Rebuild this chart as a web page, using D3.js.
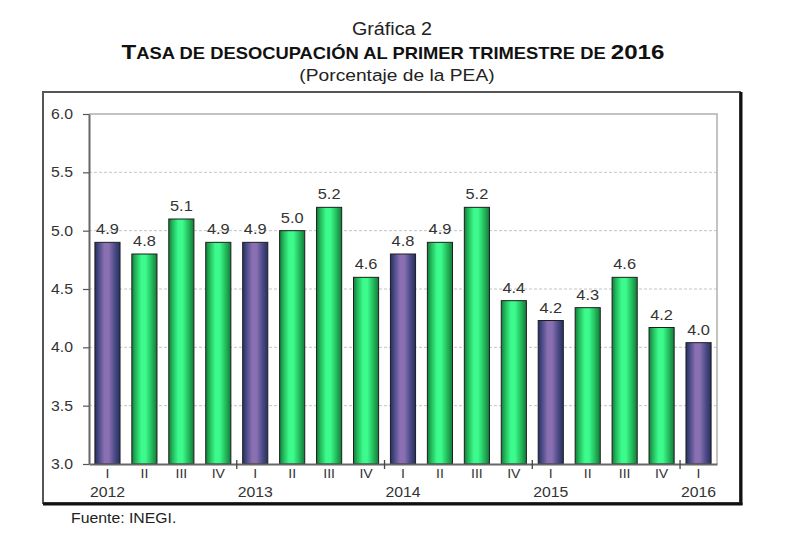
<!DOCTYPE html>
<html><head><meta charset="utf-8">
<script src="https://cdn.jsdelivr.net/npm/d3@7"></script>
<style>
body{margin:0;background:#fff}
svg{display:block}
text{font-family:Arial,"Liberation Sans",sans-serif}
</style>
</head><body>
<svg id="c" width="800" height="540"></svg>
<script>
const categories = ["2012-I","2012-II","2012-III","2012-IV","2013-I","2013-II","2013-III","2013-IV",
  "2014-I","2014-II","2014-III","2014-IV","2015-I","2015-II","2015-III","2015-IV","2016-I"];
const quarterLabels = ["I","II","III","IV","I","II","III","IV","I","II","III","IV","I","II","III","IV","I"];
const yearLabels = ["2012","","","","2013","","","","2014","","","","2015","","","","2016"];
const values = [4.9,4.8,5.1,4.9,4.9,5.0,5.2,4.6,4.8,4.9,5.2,4.4,4.23,4.34,4.6,4.17,4.04];
const yTicks = [3.0,3.5,4.0,4.5,5.0,5.5,6.0];
const chartLabel = "Gráfica 2";
const subtitle = "(Porcentaje de la PEA)";
const source = "Fuente: INEGI.";

const SX = 1.13;
const svg = d3.select("#c");
const plot = {l: 89, r: 717, t: 114, b: 464};

function stretch(sel){
  sel.each(function(){
    const t = d3.select(this);
    const x = +t.attr("x") || 0, y = +t.attr("y") || 0;
    t.attr("x", 0).attr("y", 0).attr("transform", `translate(${x},${y}) scale(${SX},1)`);
  });
}

// defs gradients
const defs = svg.append("defs");
function grad(id, stops){
  const g = defs.append("linearGradient").attr("id", id).attr("x1","0%").attr("x2","100%").attr("y1","0%").attr("y2","0%");
  stops.forEach(s => g.append("stop").attr("offset", s[0]).attr("stop-color", s[1]));
}
grad("gPurple", [["0%","#26305e"],["15%","#4a4a86"],["38%","#8a70b2"],["55%","#8a70b2"],["80%","#4a4a86"],["100%","#26305e"]]);
grad("gGreen", [["0%","#157a3a"],["15%","#22b85a"],["38%","#3cfb8c"],["55%","#3cfb8c"],["80%","#22b85a"],["100%","#157a3a"]]);

// outer frame
svg.append("rect").attr("x", 43).attr("y", 92).attr("width", 697).attr("height", 411)
  .attr("fill", "#fff").attr("stroke", "#555").attr("stroke-width", 2);
svg.append("line").attr("x1", 741).attr("x2", 741).attr("y1", 92).attr("y2", 505).attr("stroke", "#111").attr("stroke-width", 3);
svg.append("line").attr("x1", 43).attr("x2", 742.5).attr("y1", 504).attr("y2", 504).attr("stroke", "#111").attr("stroke-width", 3);

// titles
svg.append("text").attr("x", 392).attr("y", 35).attr("text-anchor","middle")
  .attr("font-size", 17.5).attr("fill", "#222").text(chartLabel).call(stretch);
const tt = svg.append("text").attr("x", 393).attr("y", 59).attr("text-anchor","middle")
  .attr("font-weight","bold").attr("fill","#111");
tt.append("tspan").attr("font-size", 21).text("T");
tt.append("tspan").attr("font-size", 16).text("ASA DE DESOCUPACIÓN AL PRIMER TRIMESTRE DE ");
tt.append("tspan").attr("font-size", 21).text("2016");
{
  const w = tt.node().getComputedTextLength();
  const k = 543 / w;
  tt.attr("x", 0).attr("y", 0).attr("transform", `translate(393,59) scale(${k},1)`);
}
svg.append("text").attr("x", 397).attr("y", 81).attr("text-anchor","middle")
  .attr("font-size", 17).attr("fill", "#222").text(subtitle).call(stretch);

// scales
const x = d3.scaleBand().domain(categories).range([plot.l, plot.r]).paddingInner(0.32).paddingOuter(0.16);
const y = d3.scaleLinear().domain([3, 6]).range([plot.b, plot.t]);

// gridlines
svg.append("g").selectAll("line").data(yTicks.filter(v => v > 3 && v < 6)).join("line")
  .attr("x1", plot.l).attr("x2", plot.r).attr("y1", d => y(d)).attr("y2", d => y(d))
  .attr("stroke", "#c4c4c4").attr("stroke-width", 1).attr("stroke-dasharray", "3,2");
// frame top & right
svg.append("path").attr("d", `M${plot.l},${y(6)}H${plot.r}V${plot.b}`)
  .attr("fill","none").attr("stroke","#b0b0b0").attr("stroke-width",1.5);

// bars
svg.append("g").selectAll("rect").data(values).join("rect")
  .attr("x", (d,i) => x(categories[i]))
  .attr("y", d => y(d))
  .attr("width", x.bandwidth())
  .attr("height", d => y(3) - y(d))
  .attr("fill", (d,i) => quarterLabels[i] === "I" ? "url(#gPurple)" : "url(#gGreen)")
  .attr("stroke", "#1e1e1e").attr("stroke-width", 1);

// value labels
svg.append("g").selectAll("text").data(values).join("text")
  .attr("x", (d,i) => x(categories[i]) + x.bandwidth()/2)
  .attr("y", d => y(d) - 8)
  .attr("text-anchor","middle").attr("font-size", 14.5).attr("fill","#333")
  .text(d => d3.format(".1f")(d)).call(stretch);

// y axis
const yAxis = svg.append("g").attr("transform", `translate(${plot.l},0)`)
  .call(d3.axisLeft(y).tickValues(yTicks).tickFormat(d3.format(".1f")).tickSize(6).tickSizeOuter(0));
yAxis.select(".domain").attr("stroke","#666").attr("stroke-width",2);
yAxis.selectAll(".tick line").attr("stroke","#555").attr("stroke-width",1.2);
yAxis.selectAll(".tick text").attr("x", -16).attr("font-size", 14).attr("fill","#333")
  .attr("font-family","Arial, 'Liberation Sans', sans-serif").call(stretch);

// x axis
const xAxis = svg.append("g").attr("transform", `translate(0,${plot.b})`)
  .call(d3.axisBottom(x).tickSize(0).tickSizeOuter(0).tickFormat((d,i) => quarterLabels[i]));
xAxis.select(".domain").attr("stroke","#666").attr("stroke-width",2);
xAxis.selectAll(".tick text").attr("y", 14).attr("dy", 0).attr("font-size", 12.5).attr("fill","#333")
  .attr("font-family","Arial, 'Liberation Sans', sans-serif").call(stretch);
xAxis.selectAll(".tick").append("text")
  .attr("y", 33).attr("text-anchor","middle").attr("font-size", 14).attr("fill","#333")
  .attr("font-family","Arial, 'Liberation Sans', sans-serif")
  .text((d,i) => yearLabels[i]).call(stretch);

// year separators
const step = x.step();
const seps = categories.map((c,i) => i).filter(i => i > 0 && quarterLabels[i] === "I");
svg.append("g").selectAll("line").data(seps).join("line")
  .attr("x1", i => x(categories[i]) - (step - x.bandwidth())/2)
  .attr("x2", i => x(categories[i]) - (step - x.bandwidth())/2)
  .attr("y1", plot.b - 4).attr("y2", plot.b + 5)
  .attr("stroke","#444").attr("stroke-width",1.3);

// source
svg.append("text").attr("x", 71).attr("y", 523).attr("font-size", 14).attr("fill","#222")
  .text(source).call(stretch);
</script>
</body></html>
